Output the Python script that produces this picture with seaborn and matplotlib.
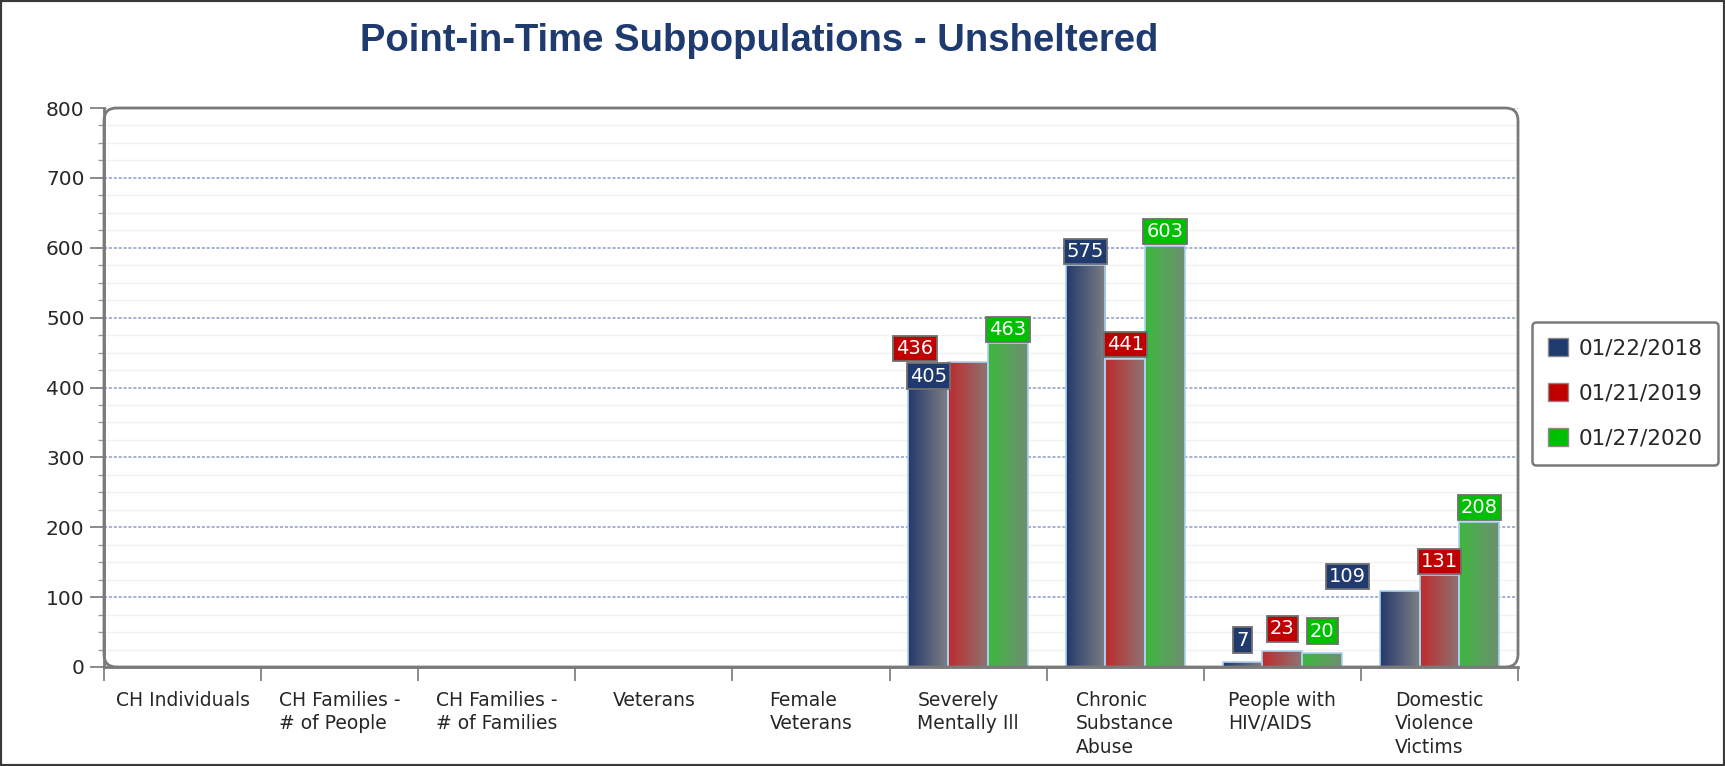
import numpy as np
import pandas as pd
import seaborn as sns
import matplotlib.pyplot as plt
import matplotlib.patches as mpatches
from matplotlib.colors import to_rgb
from matplotlib.ticker import MultipleLocator

# data
categories = ["CH Individuals", "CH Families -\n# of People", "CH Families -\n# of Families",
              "Veterans", "Female\nVeterans", "Severely\nMentally Ill",
              "Chronic\nSubstance\nAbuse", "People with\nHIV/AIDS", "Domestic\nViolence\nVictims"]
years = ["01/22/2018", "01/21/2019", "01/27/2020"]
counts_2018 = [0, 0, 0, 0, 0, 405, 575, 7, 109]
counts_2019 = [0, 0, 0, 0, 0, 436, 441, 23, 131]
counts_2020 = [0, 0, 0, 0, 0, 463, 603, 20, 208]

# colours: legend / label box, and bar gradient (left -> right)
solid = {"01/22/2018": "#1F3A6E", "01/21/2019": "#C00000", "01/27/2020": "#00BF00"}
grad = {"01/22/2018": ("#24396B", "#7E7F85"),
        "01/21/2019": ("#BE2B2B", "#8E7474"),
        "01/27/2020": ("#3DB83D", "#6F8F72")}

# label nudges in pixels (dx, dy) where the original moved labels aside
nudges = {("Severely\nMentally Ill", "01/21/2019"): (-53, 14),
          ("Severely\nMentally Ill", "01/22/2018"): (0, 8),
          ("Domestic\nViolence\nVictims", "01/22/2018"): (-52, 14),
          ("People with\nHIV/AIDS", "01/22/2018"): (0, 22),
          ("People with\nHIV/AIDS", "01/21/2019"): (0, 22),
          ("People with\nHIV/AIDS", "01/27/2020"): (0, 22)}

df = pd.DataFrame({
    "category": categories * 3,
    "year": [y for y in years for _ in categories],
    "count": counts_2018 + counts_2019 + counts_2020,
})

sns.set_theme(style="white")
plt.rcParams["font.family"] = ["DejaVu Sans"]

fig = plt.figure(figsize=(17.25, 7.66), dpi=100)
W, H = 1725, 766
ax = fig.add_axes([104 / W, 1 - 667 / H, (1518 - 104) / W, (667 - 108) / H])

sns.barplot(data=df, x="category", y="count", hue="year", order=categories, hue_order=years,
            palette=solid, width=0.76, edgecolor="#A9D2F2", linewidth=1.2,
            legend=False, ax=ax)

# gradient fill clipped to each bar
for container, year in zip(ax.containers, years):
    c0, c1 = np.array(to_rgb(grad[year][0])), np.array(to_rgb(grad[year][1]))
    g = np.linspace(0, 1, 128)[None, :, None]
    img = c0 * (1 - g) + c1 * g
    for bar in container:
        h = bar.get_height()
        if h <= 0:
            continue
        x0 = bar.get_x()
        w = bar.get_width()
        im = ax.imshow(img, extent=[x0, x0 + w, 0, h], aspect="auto", zorder=2,
                       interpolation="bilinear")
        im.set_clip_path(bar)
        bar.set_facecolor("none")
        bar.set_zorder(3)

# value labels
for container, year in zip(ax.containers, years):
    for bar, cat in zip(container, categories):
        h = bar.get_height()
        if h <= 0:
            continue
        dx, dy = nudges.get((cat, year), (0, 14))
        ax.annotate(f"{h:.0f}", (bar.get_x() + bar.get_width() / 2, h), xytext=(dx, dy),
                    textcoords="offset pixels", ha="center", va="center", color="white",
                    fontsize=14, zorder=6, annotation_clip=False,
                    bbox=dict(boxstyle="square,pad=0.16", fc=solid[year], ec="#707070", lw=1.3))

ax.set_xlim(-0.5, 8.5)
ax.set_ylim(0, 800)
ax.set_xlabel("")
ax.set_ylabel("")

# y axis
ax.yaxis.set_major_locator(MultipleLocator(100))
ax.yaxis.set_minor_locator(MultipleLocator(25))
ax.set_axisbelow(True)
ax.grid(which="major", axis="y", color="#8C9CC4", linestyle=(0, (2, 1.2)), linewidth=1.1)
ax.grid(which="minor", axis="y", color="#F1F1F1", linewidth=1)
ax.tick_params(axis="y", which="major", direction="out", length=10, width=1.2,
               color="#777777", labelsize=14.5, pad=4, left=True)
ax.tick_params(axis="y", which="minor", direction="out", length=4, width=1,
               color="#999999", left=True)

# x axis: ticks on boundaries, labels in between
ax.set_xticks(np.arange(-0.5, 9, 1))
ax.set_xticklabels([])
ax.set_xticks(np.arange(9), minor=True)
ax.set_xticklabels(categories, minor=True)
ax.tick_params(axis="x", which="major", direction="out", length=10, width=1.2,
               color="#777777", bottom=True)
ax.tick_params(axis="x", which="minor", length=0, labelsize=13.5, pad=17)
for t in ax.get_xticklabels(minor=True):
    t.set_multialignment("left")
    t.set_linespacing(1.3)

for side in ["top", "right"]:
    ax.spines[side].set_visible(False)
for side in ["left", "bottom"]:
    ax.spines[side].set_color("#7A7A7A")
    ax.spines[side].set_linewidth(2)

# rounded frame
frame = mpatches.FancyBboxPatch((0, 0), 1, 1, boxstyle="round,pad=0,rounding_size=0.009",
                                mutation_aspect=(1518 - 104) / (667 - 108),
                                transform=ax.transAxes, fc="none", ec="#7A7A7A", lw=2,
                                clip_on=False, zorder=7)
ax.add_patch(frame)

# legend
handles = [mpatches.Patch(facecolor=solid[y], edgecolor="#8A8A8A", label=y) for y in years]
leg = fig.legend(handles=handles, loc="upper left", bbox_to_anchor=(1532 / W, 1 - 322 / H),
                 borderaxespad=0, fontsize=15.5, frameon=True, fancybox=True,
                 edgecolor="#7A7A7A", framealpha=1, handlelength=0.9, handleheight=0.9,
                 handletextpad=0.5, labelspacing=1.15, borderpad=0.75)
leg.get_frame().set_linewidth(1.8)

# title
fig.text(759 / W, 1 - 41 / H, "Point-in-Time Subpopulations - Unsheltered", ha="center",
         va="center", fontsize=27.5, fontweight="bold", color="#1F3A6E",
         family=["Liberation Sans", "DejaVu Sans"])

# outer border
fig.patches.append(mpatches.Rectangle((0, 0), 1, 1, transform=fig.transFigure, fill=False,
                                      ec="#3A3A3A", lw=3, zorder=10))

plt.savefig("out.png", dpi=100)
